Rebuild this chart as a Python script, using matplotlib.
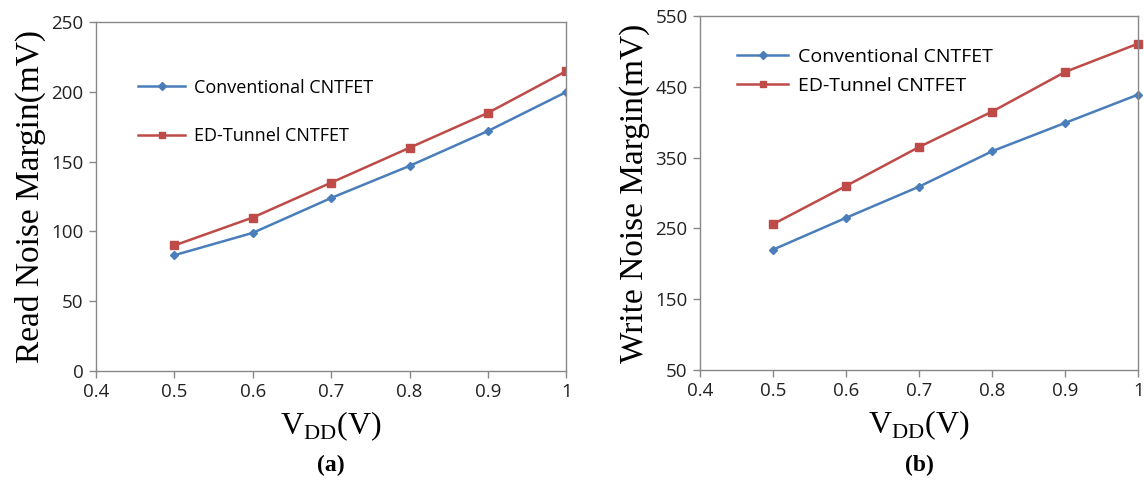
import matplotlib
matplotlib.use("Agg")
import matplotlib.pyplot as plt

# === DATOS ===
vdd = [0.5, 0.6, 0.7, 0.8, 0.9, 1.0]
read_conv = [83, 99, 124, 147, 172, 200]
read_ed = [90, 110, 135, 160, 185, 215]
write_conv = [220, 265, 309, 359, 399, 439]
write_ed = [256, 310, 365, 415, 471, 511]

x_ticks = [0.4, 0.5, 0.6, 0.7, 0.8, 0.9, 1.0]
x_tick_labels = ["0.4", "0.5", "0.6", "0.7", "0.8", "0.9", "1"]
read_ticks = [0, 50, 100, 150, 200, 250]
write_ticks = [50, 150, 250, 350, 450, 550]

label_conv = "Conventional CNTFET"
label_ed = "ED-Tunnel CNTFET"

azul = "#4a7ebb"
rojo = "#be4b48"
tick_font = "Open Sans"
serif = "Liberation Serif"

fig = plt.figure(figsize=(11.44, 4.83), dpi=100)
ax_a = fig.add_axes([0.084, 0.232, 0.411, 0.722])
ax_b = fig.add_axes([0.612, 0.234, 0.383, 0.733])


def estilo(ax, yticks, ylabel, panel):
    ax.set_xlim(0.4, 1.0)
    ax.set_ylim(yticks[0], yticks[-1])
    ax.set_xticks(x_ticks)
    ax.set_xticklabels(x_tick_labels, fontfamily=tick_font, fontsize=13.5)
    ax.set_yticks(yticks)
    ax.set_yticklabels([str(t) for t in yticks], fontfamily=tick_font, fontsize=13.5)
    for s in ax.spines.values():
        s.set_color("#888888")
        s.set_linewidth(1.0)
    ax.tick_params(color="#888888", length=5, width=1, colors="#222222", pad=4)
    ax.set_ylabel(ylabel, fontfamily=serif, fontsize=24, labelpad=4)
    ax.set_xlabel(r"V$_{\mathregular{DD}}$(V)", fontfamily=serif, fontsize=23, labelpad=6)
    ax.text(0.5, -0.27, panel, transform=ax.transAxes, ha="center", va="center",
            fontfamily=serif, fontsize=17, fontweight="bold")


# === (a) READ ===
ax_a.plot(vdd, read_conv, color=azul, lw=1.8, marker="D", ms=4.5, label=label_conv)
ax_a.plot(vdd, read_ed, color=rojo, lw=1.8, marker="s", ms=6, label=label_ed)
estilo(ax_a, read_ticks, "Read Noise Margin(mV)", "(a)")
ax_a.legend(loc="upper left", bbox_to_anchor=(0.055, 0.885), frameon=False,
            prop={"family": tick_font, "size": 13}, labelspacing=1.7,
            handlelength=2.6, handletextpad=0.5, markerscale=0.8)

# === (b) WRITE ===
ax_b.plot(vdd, write_conv, color=azul, lw=1.8, marker="D", ms=4.5, label=label_conv, clip_on=False)
ax_b.plot(vdd, write_ed, color=rojo, lw=1.8, marker="s", ms=6, label=label_ed, clip_on=False)
estilo(ax_b, write_ticks, "Write Noise Margin(mV)", "(b)")
ax_b.legend(loc="upper left", bbox_to_anchor=(0.045, 0.96), frameon=False,
            prop={"family": tick_font, "size": 14}, labelspacing=0.6,
            handlelength=2.6, handletextpad=0.5, markerscale=0.8)

fig.savefig("out.png", dpi=100)
